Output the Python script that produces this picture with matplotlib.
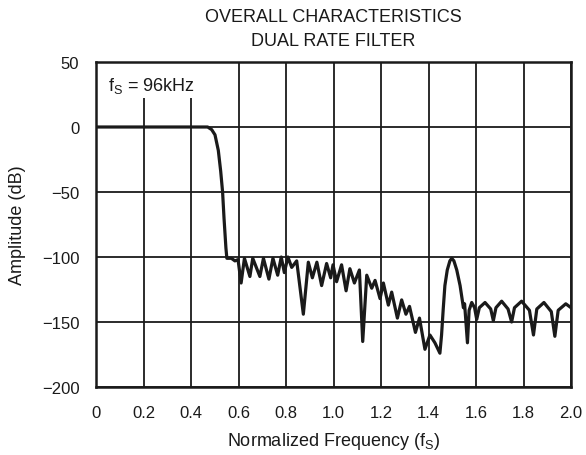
import matplotlib
matplotlib.use("Agg")
import matplotlib.pyplot as plt
from matplotlib.patches import Rectangle

plt.rcParams['font.family'] = ['Liberation Sans', 'DejaVu Sans']
plt.rcParams['mathtext.default'] = 'regular'

title_lines = ["OVERALL CHARACTERISTICS", "DUAL RATE FILTER"]
x_label = "Normalized Frequency (f$_S$)"
y_label = "Amplitude (dB)"
x_ticks = [0, 0.2, 0.4, 0.6, 0.8, 1.0, 1.2, 1.4, 1.6, 1.8, 2.0]
x_tick_labels = ["0", "0.2", "0.4", "0.6", "0.8", "1.0", "1.2", "1.4", "1.6", "1.8", "2.0"]
y_ticks = [-200, -150, -100, -50, 0, 50]

freq = [0.0, 0.47, 0.487, 0.501, 0.515, 0.525, 0.533, 0.539, 0.547, 0.551, 0.57, 0.585,
        0.598, 0.611, 0.625, 0.648, 0.66, 0.69, 0.705, 0.728, 0.745, 0.765, 0.78, 0.793,
        0.808, 0.824, 0.845, 0.873, 0.894, 0.911, 0.93, 0.95, 0.971, 0.988, 0.998, 1.013,
        1.034, 1.053, 1.069, 1.088, 1.109, 1.123, 1.14, 1.161, 1.175, 1.196, 1.21, 1.231,
        1.245, 1.269, 1.287, 1.305, 1.32, 1.345, 1.362, 1.385, 1.406, 1.427, 1.448, 1.455,
        1.462, 1.469, 1.479, 1.49, 1.498, 1.507, 1.519, 1.533, 1.547, 1.552, 1.564, 1.571,
        1.582, 1.594, 1.603, 1.614, 1.638, 1.662, 1.673, 1.684, 1.708, 1.735, 1.75, 1.762,
        1.792, 1.825, 1.842, 1.856, 1.886, 1.917, 1.932, 1.946, 1.978, 2.0]
amp = [0, 0, -2, -6, -18, -34, -50, -70, -93, -101, -101, -103,
       -102, -120, -101, -115, -101, -115, -101, -117, -101, -114, -100, -112,
       -100, -108, -103, -144, -104, -116, -104, -122, -105, -116, -106, -119,
       -106, -126, -109, -120, -110, -165, -114, -124, -118, -132, -120, -137,
       -127, -147, -133, -144, -138, -158, -147, -171, -160, -166, -174, -160,
       -140, -122, -110, -103, -101, -103, -110, -122, -139, -136, -166, -141,
       -135, -139, -148, -139, -135, -140, -149, -139, -134, -140, -150, -139,
       -134, -141, -160, -140, -135, -142, -161, -141, -136, -139]

fig = plt.figure(figsize=(5.86, 4.56), dpi=100)
ax = fig.add_axes([96/586, 1 - 388/456, 475/586, 325/456])

ax.plot(freq, amp, color='#1a1a1a', linewidth=2.3, solid_joinstyle='round', zorder=3)

ax.set_xlim(0, 2.0)
ax.set_ylim(-200, 50)
ax.set_xticks(x_ticks)
ax.set_xticklabels(x_tick_labels)
ax.set_yticks(y_ticks)
ax.grid(True, color='#1a1a1a', linewidth=1.3)
ax.tick_params(length=0, labelsize=12, colors='#1a1a1a')
ax.tick_params(axis='x', pad=13)
ax.tick_params(axis='y', pad=12)
for s in ax.spines.values():
    s.set_linewidth(1.8)
    s.set_color('#1a1a1a')

ax.add_patch(Rectangle((0, 0.89), 0.235, 0.11, transform=ax.transAxes,
                       facecolor='white', edgecolor='none', zorder=2))
ax.text(0.05, 32, "f$_S$ = 96kHz", fontsize=13, color='#1a1a1a', va='center', ha='left', zorder=4)

cx = (96 + 571) / 2 / 586
fig.text(cx, 1 - 18/456, title_lines[0], ha='center', va='center', fontsize=13, color='#1a1a1a')
fig.text(cx, 1 - 41/456, title_lines[1], ha='center', va='center', fontsize=13, color='#1a1a1a')
fig.text(cx, 1 - 442/456, x_label, ha='center', va='center', fontsize=13, color='#1a1a1a')
fig.text(18/586, 1 - 225/456, y_label, ha='center', va='center', rotation=90, fontsize=13, color='#1a1a1a')

fig.savefig("out.png", dpi=100)
